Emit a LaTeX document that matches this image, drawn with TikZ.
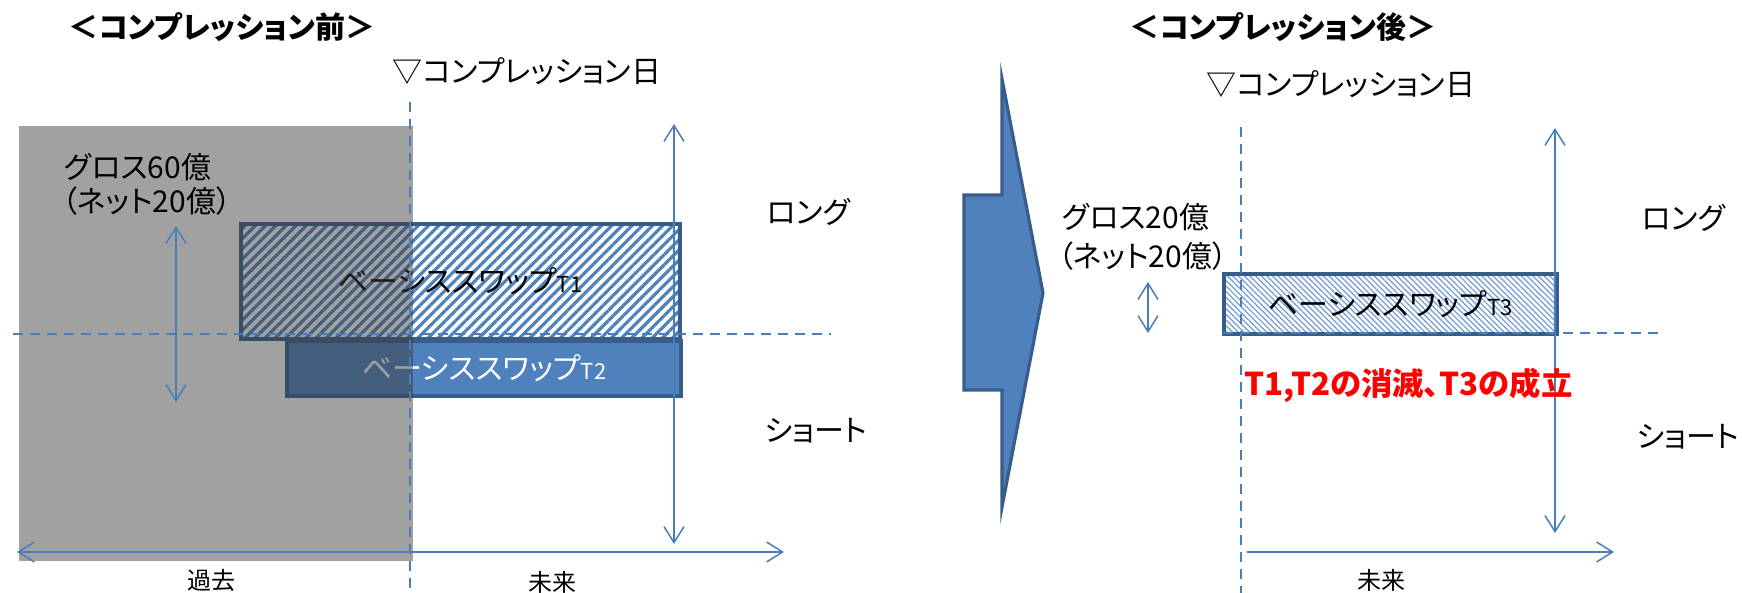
\documentclass[tikz,border=0pt]{standalone}
\usepackage{fontspec}
\setmainfont{Noto Sans CJK JP}[RawFeature=+palt]
\usetikzlibrary{patterns.meta,arrows.meta}
\definecolor{lblue}{HTML}{4A7EBB}
\definecolor{dblue}{HTML}{385D8A}
\definecolor{mblue}{HTML}{4F81BD}
\definecolor{hblue}{HTML}{7FA3D3}
\definecolor{shade}{HTML}{3A3A3A}
\tikzset{
  axis/.style={draw=lblue, line width=0.75pt},
  dbl/.style={axis, {Straight Barb[length=8pt,width=10pt]}-{Straight Barb[length=8pt,width=10pt]}},
  sgl/.style={axis, -{Straight Barb[length=8pt,width=10pt]}},
  dashline/.style={draw=lblue, line width=0.75pt, dash pattern=on 5pt off 3.5pt},
  lab/.style={font=\fontsize{15}{17}\selectfont, inner sep=0pt},
  ttl/.style={font=\fontsize{15}{17}\selectfont\bfseries, inner sep=0pt},
  boxT/.style={draw=dblue, line width=2pt, inner sep=0pt, anchor=north west, lab},
}
\newcommand{\subT}[1]{{\fontsize{11}{13}\selectfont #1}}
\begin{document}
\begin{tikzpicture}[x=0.5pt,y=-0.5pt]
\useasboundingbox (0,0) rectangle (1742,593);

% ---------- left panel ----------
\node[ttl] (title1) at (222,27) {＜コンプレッション前＞};
\node[lab] (cday1) at (527,71) {▽コンプレッション日};

\node[boxT, minimum width=219.5pt, minimum height=57.5pt,
      pattern={Lines[angle=45,distance=3.6pt,line width=1.6pt]}, pattern color=mblue]
      (t1) at (239,222) {};
\node[lab] (t1txt) at (t1.center) {ベーシススワップ\subT{T1}};

\node[boxT, minimum width=197pt, minimum height=27.5pt, fill=mblue, text=white]
      (t2) at (285,339) {};
\node[lab, text=white] (t2txt) at (t2.center) {ベーシススワップ\subT{T2}};

% grey overlay (past)
\node[fill=shade, opacity=0.48, inner sep=0pt, anchor=north west,
      minimum width=197pt, minimum height=217.5pt] (past) at (19,126) {};

\draw[dashline] (410,102) coordinate (dv1a) -- (410,593) coordinate (dv1b);
\draw[dashline] (13,334) coordinate (dh1a) -- (831,334) coordinate (dh1b);

\coordinate (ga1) at (176,226); \coordinate (gb1) at (176,402);
\draw[dbl] (ga1) -- (gb1);
\coordinate (la1) at (674,124); \coordinate (lb1) at (674,544);
\draw[dbl] (la1) -- (lb1);
\coordinate (ha1) at (17,552); \coordinate (hb1) at (784,552);
\draw[dbl] (ha1) -- (hb1);

\node[lab, anchor=west] (gross1) at (64,167) {グロス60億};
\node[lab, anchor=west] (net1) at (62,201) {（ネット20億）};
\node[lab, anchor=west] (long1) at (767,212) {ロング};
\node[lab, anchor=west] (short1) at (764,431) {ショート};
\node[lab, font=\fontsize{12}{14}\selectfont] (past1) at (211,580) {過去};
\node[lab, font=\fontsize{12}{14}\selectfont] (fut1) at (552,582) {未来};

% ---------- big arrow ----------
\draw[draw=dblue, fill=mblue, line width=1.6pt, line join=miter, miter limit=20]
  (964,195) -- (1002,195) -- (1002,79) -- (1043,293) -- (1002,507) -- (1002,390) -- (964,390) -- cycle;

% ---------- right panel ----------
\node[ttl] (title2) at (1283,27) {＜コンプレッション後＞};
\node[lab] (cday2) at (1341,84) {▽コンプレッション日};

\node[boxT, minimum width=166.5pt, minimum height=30pt,
      pattern={Lines[angle=-45,distance=2pt,line width=0.7pt]}, pattern color=hblue]
      (t3) at (1223,273) {};
\node[lab] (t3txt) at (t3.center) {ベーシススワップ\subT{T3}};

\draw[dashline] (1241,127) coordinate (dv2a) -- (1241,593) coordinate (dv2b);
\draw[dashline] (1223,333) coordinate (dh2a) -- (1659,333) coordinate (dh2b);

\coordinate (ga2) at (1148,282); \coordinate (gb2) at (1148,333);
\draw[dbl] (ga2) -- (gb2);
\coordinate (la2) at (1555,128); \coordinate (lb2) at (1555,533);
\draw[dbl] (la2) -- (lb2);
\coordinate (ha2) at (1247,552); \coordinate (hb2) at (1614,552);
\draw[sgl] (ha2) -- (hb2);

\node[lab, anchor=west] (gross2) at (1062,217) {グロス20億};
\node[lab, anchor=west] (net2) at (1058,256) {（ネット20億）};
\node[ttl, font=\fontsize{15.7}{18}\selectfont\bfseries, text=red, anchor=west] (result) at (1244,385) {T1,T2の消滅、T3の成立};
\node[lab, anchor=west] (long2) at (1642,218) {ロング};
\node[lab, anchor=west] (short2) at (1636,437) {ショート};
\node[lab, font=\fontsize{12}{14}\selectfont] (fut2) at (1381,580) {未来};
\end{tikzpicture}
\end{document}
